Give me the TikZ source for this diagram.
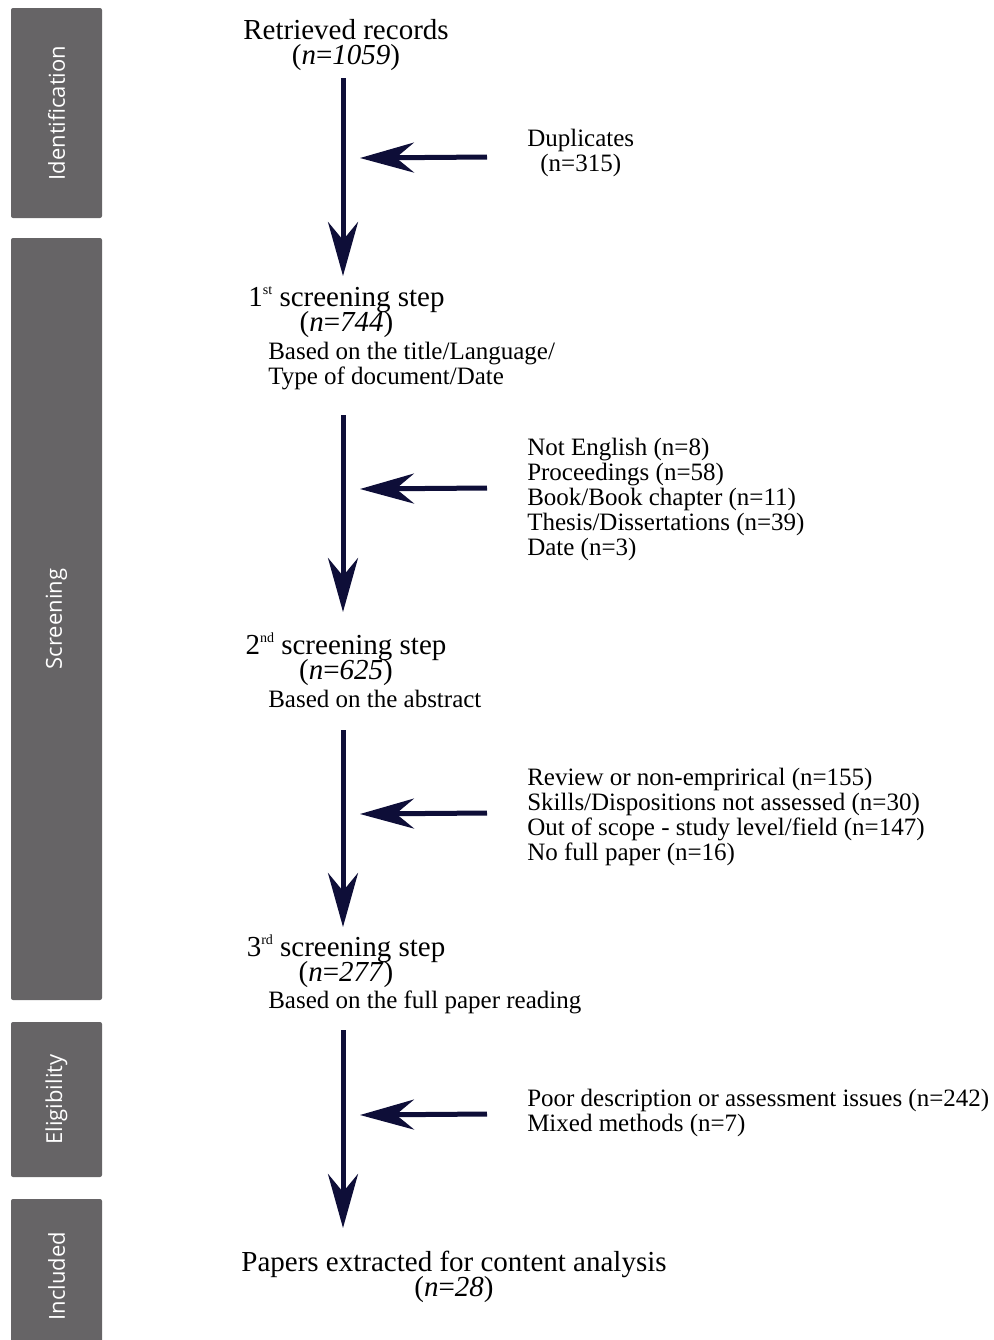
\documentclass[tikz,border=0pt]{standalone}
\usepackage{fontspec}
\setmainfont{Liberation Serif}
\newfontfamily\barfont{Open Sans}
\usetikzlibrary{arrows.meta}
\definecolor{barcol}{RGB}{102,100,102}
\definecolor{arrcol}{RGB}{14,14,56}
\newcommand\mytightlines{\lineskiplimit=-100pt\relax}
\newcommand\myheadfont{\fontsize{21.75pt}{18.5pt}\selectfont\mytightlines}
\newcommand\mysubfont{\fontsize{18.75pt}{18.75pt}\selectfont\mytightlines}
\newcommand\myord[1]{\raisebox{9pt}{\fontsize{10.5pt}{10.5pt}\selectfont #1}}
\begin{document}
\begin{tikzpicture}[x=0.75pt,y=-0.75pt,
  bar/.style={fill=barcol, rounded corners=1.5pt, text=white, font=\barfont\fontsize{16.5pt}{20pt}\selectfont, rotate=90, inner sep=0pt, minimum height=68.25pt},
  head/.style={align=center, inner sep=0pt, font=\myheadfont, anchor=base},
  sub/.style={align=left, inner sep=0pt, font=\mysubfont, anchor=base west},
  flow/.style={draw=arrcol, line width=3.75pt, -{Stealth[length=40.5pt,width=22.5pt,inset=13.5pt]}},
]
\useasboundingbox (0,0) rectangle (994,1340);
% side bars
\node[bar, minimum width=157.5pt] (idbar) at (56.5,113) {Identification};
\node[bar, minimum width=571.5pt] (scbar) at (56.5,619) {Screening};
\node[bar, minimum width=116.25pt] (elbar) at (56.5,1099.5) {Eligibility};
\node[bar, minimum width=115.5pt] (inbar) at (56.5,1276) {Included};
% texts (base anchor = baseline of the last line)
\node[head] (retr) at (346,64) {Retrieved records\\(\textit{n}=\textit{1059})};
\node[sub, align=center] (dup) at (527,171) {Duplicates\\(n=315)};
\node[head] (s1) at (346.5,331) {1\myord{st} screening step\\(\textit{n}=\textit{744})};
\node[sub] (s1b) at (268,384) {Based on the title/Language/\\Type of document/Date};
\node[sub] (ex1) at (527,555) {Not English (n=8)\\Proceedings (n=58)\\Book/Book chapter (n=11)\\Thesis/Dissertations (n=39)\\Date (n=3)};
\node[head] (s2) at (346,679) {2\myord{nd} screening step\\(\textit{n}=\textit{625})};
\node[sub] (s2b) at (268,707) {Based on the abstract};
\node[sub] (ex2) at (527,860) {Review or non-emprirical (n=155)\\Skills/Dispositions not assessed (n=30)\\Out of scope - study level/field (n=147)\\No full paper (n=16)};
\node[head] (s3) at (346,981) {3\myord{rd} screening step\\(\textit{n}=\textit{277})};
\node[sub] (s3b) at (268,1008) {Based on the full paper reading};
\node[sub] (ex3) at (527,1131) {Poor description or assessment issues (n=242)\\Mixed methods (n=7)};
\node[head] (fin) at (454,1296) {Papers extracted for content analysis\\(\textit{n}=\textit{28})};
% arrow end points
\coordinate (v1s) at (343,78);   \coordinate (v1e) at (343,276);
\coordinate (h1s) at (487,157);  \coordinate (h1e) at (360,158);
\coordinate (v2s) at (343,415);  \coordinate (v2e) at (343,612);
\coordinate (h2s) at (487,488);  \coordinate (h2e) at (360,489);
\coordinate (v3s) at (343,730);  \coordinate (v3e) at (343,927);
\coordinate (h3s) at (487,813);  \coordinate (h3e) at (360,814);
\coordinate (v4s) at (343,1030); \coordinate (v4e) at (343,1228);
\coordinate (h4s) at (487,1114); \coordinate (h4e) at (360,1115);
\draw[flow] (v1s) -- (v1e);
\draw[flow] (h1s) -- (h1e);
\draw[flow] (v2s) -- (v2e);
\draw[flow] (h2s) -- (h2e);
\draw[flow] (v3s) -- (v3e);
\draw[flow] (h3s) -- (h3e);
\draw[flow] (v4s) -- (v4e);
\draw[flow] (h4s) -- (h4e);
\end{tikzpicture}
\end{document}
